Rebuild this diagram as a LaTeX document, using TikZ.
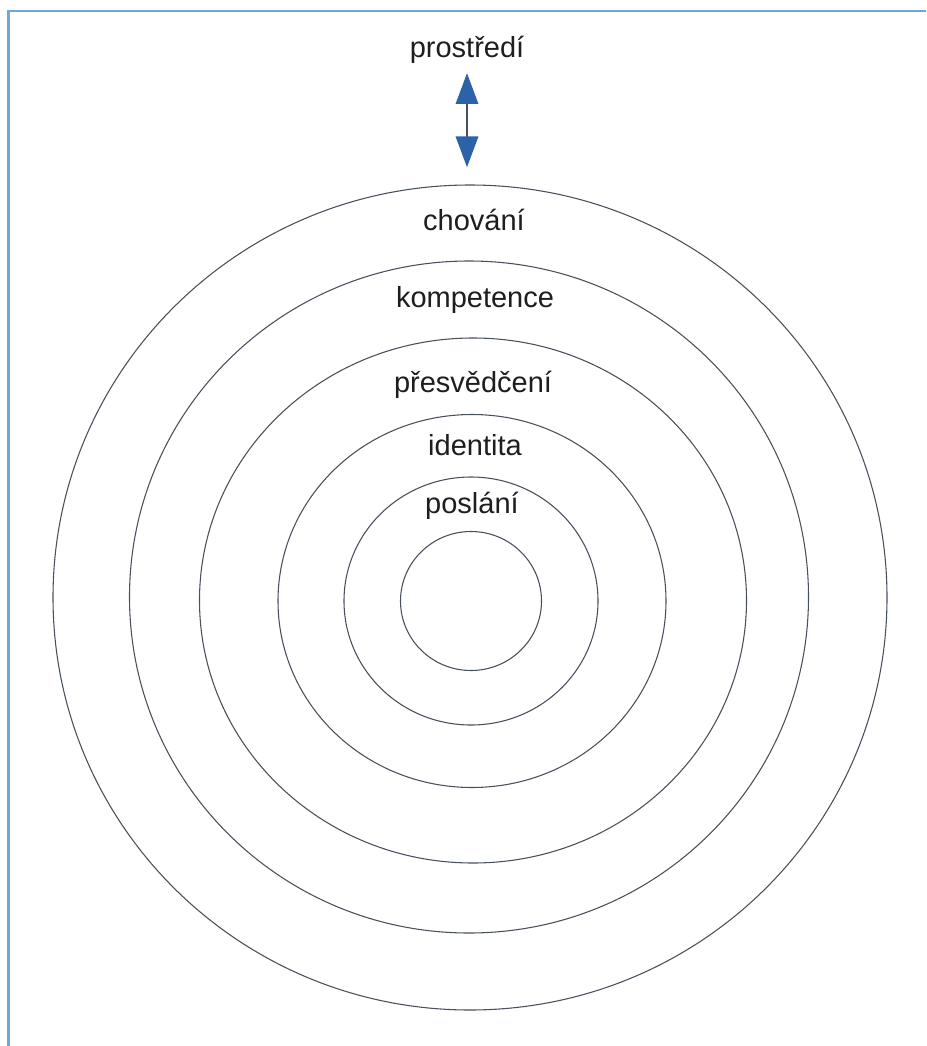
\documentclass[tikz,border=0pt]{standalone}
\usepackage{fontspec}
\setmainfont{Liberation Sans}
\usepackage{xcolor}
\definecolor{frameblue}{RGB}{112,166,222}
\definecolor{ringgray}{RGB}{72,80,92}
\definecolor{arrowblue}{RGB}{44,98,168}
\definecolor{labeltext}{RGB}{30,30,30}
\usetikzlibrary{shapes.geometric,arrows.meta}

\begin{document}
\begin{tikzpicture}[
  x=0.75pt, y=-0.75pt,
  % --- look of the rings and labels ------------------------------------
  ring/.style={ellipse, draw=ringgray, line width=0.8pt, inner sep=0pt},
  layer/.style={font=\fontsize{21.75}{26}\selectfont, text=labeltext,
                inner sep=0pt, anchor=base},
  link/.style={ringgray, line width=0.8pt,
               {Triangle[width=17pt,length=23pt,color=arrowblue]}-%
               {Triangle[width=17pt,length=23pt,color=arrowblue]}},
  frame/.style={frameblue, line width=1.6pt},
  % ---------------------------------------------------------------------
]
  \useasboundingbox[fill=white] (0,0) rectangle (926,1046);

  % Frame (top and left edge only)
  \draw[frame] (8.5,1046) -- (8.5,11) -- (926,11);

  % Rings, inner to outer
  \node[ring, minimum width=105.75pt, minimum height=104.25pt] (ring1) at (471,601) {};
  \node[ring, minimum width=190.5pt,  minimum height=186pt]   (ring2) at (471,601) {};
  \node[ring, minimum width=291pt,    minimum height=279.75pt] (ring3) at (472,601) {};
  \node[ring, minimum width=410.25pt, minimum height=393.75pt] (ring4) at (473,600.5) {};
  \node[ring, minimum width=509.25pt, minimum height=504pt]   (ring5) at (469,597) {};
  \node[ring, minimum width=625.5pt,  minimum height=618.75pt] (ring6) at (470,597.5) {};

  % Labels
  \node[layer] (env)  at (467,57)  {prostředí};
  \node[layer] (beh)  at (474,230) {chování};
  \node[layer] (comp) at (475,307) {kompetence};
  \node[layer] (bel)  at (473,392) {přesvědčení};
  \node[layer] (ident) at (475,455) {identita};
  \node[layer] (miss) at (472,513) {poslání};

  % Connector
  \draw[link, shorten <=7.5pt, shorten >=13pt] (env.south) -- (env.south |- ring6.north);
\end{tikzpicture}
\end{document}
